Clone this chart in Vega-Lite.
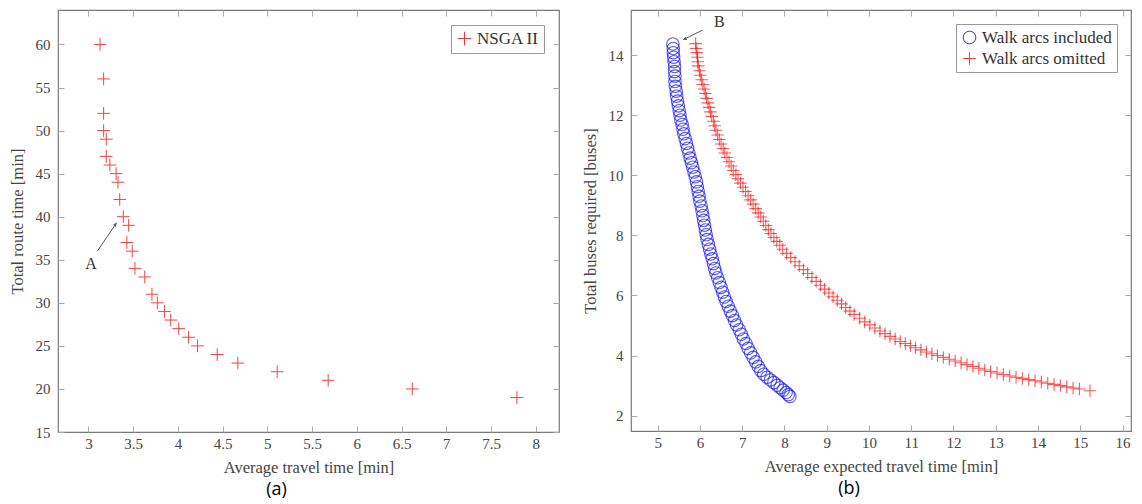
{
  "$schema": "https://vega.github.io/schema/vega-lite/v6.json",
  "background": "white",
  "padding": {"left": 8, "top": 8, "right": 5, "bottom": 0},
  "spacing": 20,
  "datasets": {
    "left": [
      {"x": 3.13, "y": 60}, {"x": 3.17, "y": 56}, {"x": 3.17, "y": 52}, {"x": 3.17, "y": 50},
      {"x": 3.20, "y": 49}, {"x": 3.20, "y": 47}, {"x": 3.24, "y": 46}, {"x": 3.31, "y": 45},
      {"x": 3.33, "y": 44}, {"x": 3.35, "y": 42}, {"x": 3.39, "y": 40}, {"x": 3.45, "y": 39},
      {"x": 3.43, "y": 37}, {"x": 3.49, "y": 36}, {"x": 3.52, "y": 34}, {"x": 3.63, "y": 33},
      {"x": 3.71, "y": 31}, {"x": 3.77, "y": 30}, {"x": 3.85, "y": 29}, {"x": 3.92, "y": 28},
      {"x": 4.01, "y": 27}, {"x": 4.12, "y": 26}, {"x": 4.22, "y": 25}, {"x": 4.44, "y": 24},
      {"x": 4.67, "y": 23}, {"x": 5.11, "y": 22}, {"x": 5.68, "y": 21}, {"x": 6.62, "y": 20},
      {"x": 7.79, "y": 19}
    ],
    "annL": [{"x": 3.10, "y": 36.0, "x2": 3.31, "y2": 39.22, "tx": 3.03, "ty": 34.45, "label": "A"}],
    "annR": [{"x": 6.06, "y": 14.83, "x2": 5.62, "y2": 14.52, "tx": 6.46, "ty": 15.09, "label": "B"}],
    "right": [
      {"x": 5.36, "y": 14.37, "s": "Walk arcs included"}, {"x": 5.37, "y": 14.22, "s": "Walk arcs included"},
      {"x": 5.37, "y": 14.08, "s": "Walk arcs included"}, {"x": 5.38, "y": 13.93, "s": "Walk arcs included"},
      {"x": 5.39, "y": 13.78, "s": "Walk arcs included"}, {"x": 5.40, "y": 13.62, "s": "Walk arcs included"},
      {"x": 5.40, "y": 13.45, "s": "Walk arcs included"}, {"x": 5.41, "y": 13.30, "s": "Walk arcs included"},
      {"x": 5.41, "y": 13.12, "s": "Walk arcs included"}, {"x": 5.42, "y": 12.96, "s": "Walk arcs included"},
      {"x": 5.44, "y": 12.80, "s": "Walk arcs included"}, {"x": 5.45, "y": 12.63, "s": "Walk arcs included"},
      {"x": 5.47, "y": 12.47, "s": "Walk arcs included"}, {"x": 5.49, "y": 12.31, "s": "Walk arcs included"},
      {"x": 5.51, "y": 12.15, "s": "Walk arcs included"}, {"x": 5.53, "y": 12.00, "s": "Walk arcs included"},
      {"x": 5.55, "y": 11.84, "s": "Walk arcs included"}, {"x": 5.58, "y": 11.69, "s": "Walk arcs included"},
      {"x": 5.60, "y": 11.53, "s": "Walk arcs included"}, {"x": 5.62, "y": 11.38, "s": "Walk arcs included"},
      {"x": 5.65, "y": 11.22, "s": "Walk arcs included"}, {"x": 5.68, "y": 11.06, "s": "Walk arcs included"},
      {"x": 5.71, "y": 10.90, "s": "Walk arcs included"}, {"x": 5.74, "y": 10.74, "s": "Walk arcs included"},
      {"x": 5.77, "y": 10.57, "s": "Walk arcs included"}, {"x": 5.80, "y": 10.42, "s": "Walk arcs included"},
      {"x": 5.83, "y": 10.27, "s": "Walk arcs included"}, {"x": 5.86, "y": 10.11, "s": "Walk arcs included"},
      {"x": 5.89, "y": 9.95, "s": "Walk arcs included"}, {"x": 5.92, "y": 9.78, "s": "Walk arcs included"},
      {"x": 5.94, "y": 9.62, "s": "Walk arcs included"}, {"x": 5.96, "y": 9.46, "s": "Walk arcs included"},
      {"x": 5.98, "y": 9.30, "s": "Walk arcs included"}, {"x": 6.00, "y": 9.14, "s": "Walk arcs included"},
      {"x": 6.03, "y": 8.98, "s": "Walk arcs included"}, {"x": 6.05, "y": 8.82, "s": "Walk arcs included"},
      {"x": 6.07, "y": 8.66, "s": "Walk arcs included"}, {"x": 6.09, "y": 8.50, "s": "Walk arcs included"},
      {"x": 6.11, "y": 8.34, "s": "Walk arcs included"}, {"x": 6.13, "y": 8.18, "s": "Walk arcs included"},
      {"x": 6.15, "y": 8.02, "s": "Walk arcs included"}, {"x": 6.17, "y": 7.86, "s": "Walk arcs included"},
      {"x": 6.20, "y": 7.70, "s": "Walk arcs included"}, {"x": 6.23, "y": 7.54, "s": "Walk arcs included"},
      {"x": 6.26, "y": 7.38, "s": "Walk arcs included"}, {"x": 6.29, "y": 7.22, "s": "Walk arcs included"},
      {"x": 6.32, "y": 7.06, "s": "Walk arcs included"}, {"x": 6.35, "y": 6.90, "s": "Walk arcs included"},
      {"x": 6.38, "y": 6.75, "s": "Walk arcs included"}, {"x": 6.42, "y": 6.59, "s": "Walk arcs included"},
      {"x": 6.46, "y": 6.43, "s": "Walk arcs included"}, {"x": 6.50, "y": 6.27, "s": "Walk arcs included"},
      {"x": 6.54, "y": 6.11, "s": "Walk arcs included"}, {"x": 6.58, "y": 5.95, "s": "Walk arcs included"},
      {"x": 6.62, "y": 5.80, "s": "Walk arcs included"}, {"x": 6.67, "y": 5.64, "s": "Walk arcs included"},
      {"x": 6.72, "y": 5.48, "s": "Walk arcs included"}, {"x": 6.77, "y": 5.33, "s": "Walk arcs included"},
      {"x": 6.82, "y": 5.17, "s": "Walk arcs included"}, {"x": 6.87, "y": 5.02, "s": "Walk arcs included"},
      {"x": 6.93, "y": 4.86, "s": "Walk arcs included"}, {"x": 6.98, "y": 4.71, "s": "Walk arcs included"},
      {"x": 7.03, "y": 4.55, "s": "Walk arcs included"}, {"x": 7.09, "y": 4.40, "s": "Walk arcs included"},
      {"x": 7.14, "y": 4.24, "s": "Walk arcs included"}, {"x": 7.20, "y": 4.09, "s": "Walk arcs included"},
      {"x": 7.26, "y": 3.94, "s": "Walk arcs included"}, {"x": 7.32, "y": 3.79, "s": "Walk arcs included"},
      {"x": 7.38, "y": 3.64, "s": "Walk arcs included"}, {"x": 7.44, "y": 3.50, "s": "Walk arcs included"},
      {"x": 7.51, "y": 3.38, "s": "Walk arcs included"}, {"x": 7.59, "y": 3.28, "s": "Walk arcs included"},
      {"x": 7.67, "y": 3.19, "s": "Walk arcs included"}, {"x": 7.75, "y": 3.10, "s": "Walk arcs included"},
      {"x": 7.83, "y": 3.01, "s": "Walk arcs included"}, {"x": 7.90, "y": 2.93, "s": "Walk arcs included"},
      {"x": 7.97, "y": 2.85, "s": "Walk arcs included"}, {"x": 8.04, "y": 2.77, "s": "Walk arcs included"},
      {"x": 8.09, "y": 2.70, "s": "Walk arcs included"}, {"x": 8.13, "y": 2.64, "s": "Walk arcs included"},
      {"x": 5.90, "y": 14.38, "s": "Walk arcs omitted"}, {"x": 5.91, "y": 14.22, "s": "Walk arcs omitted"},
      {"x": 5.93, "y": 14.08, "s": "Walk arcs omitted"}, {"x": 5.94, "y": 13.93, "s": "Walk arcs omitted"},
      {"x": 5.95, "y": 13.78, "s": "Walk arcs omitted"}, {"x": 5.96, "y": 13.64, "s": "Walk arcs omitted"},
      {"x": 5.99, "y": 13.48, "s": "Walk arcs omitted"}, {"x": 6.01, "y": 13.33, "s": "Walk arcs omitted"},
      {"x": 6.04, "y": 13.18, "s": "Walk arcs omitted"}, {"x": 6.07, "y": 13.02, "s": "Walk arcs omitted"},
      {"x": 6.10, "y": 12.87, "s": "Walk arcs omitted"}, {"x": 6.13, "y": 12.72, "s": "Walk arcs omitted"},
      {"x": 6.16, "y": 12.56, "s": "Walk arcs omitted"}, {"x": 6.19, "y": 12.41, "s": "Walk arcs omitted"},
      {"x": 6.22, "y": 12.26, "s": "Walk arcs omitted"}, {"x": 6.25, "y": 12.11, "s": "Walk arcs omitted"},
      {"x": 6.28, "y": 11.96, "s": "Walk arcs omitted"}, {"x": 6.32, "y": 11.80, "s": "Walk arcs omitted"},
      {"x": 6.35, "y": 11.65, "s": "Walk arcs omitted"}, {"x": 6.38, "y": 11.50, "s": "Walk arcs omitted"},
      {"x": 6.42, "y": 11.34, "s": "Walk arcs omitted"}, {"x": 6.46, "y": 11.19, "s": "Walk arcs omitted"},
      {"x": 6.50, "y": 11.04, "s": "Walk arcs omitted"}, {"x": 6.55, "y": 10.89, "s": "Walk arcs omitted"},
      {"x": 6.59, "y": 10.74, "s": "Walk arcs omitted"}, {"x": 6.64, "y": 10.59, "s": "Walk arcs omitted"},
      {"x": 6.69, "y": 10.45, "s": "Walk arcs omitted"}, {"x": 6.74, "y": 10.31, "s": "Walk arcs omitted"},
      {"x": 6.79, "y": 10.16, "s": "Walk arcs omitted"}, {"x": 6.85, "y": 10.02, "s": "Walk arcs omitted"},
      {"x": 6.90, "y": 9.88, "s": "Walk arcs omitted"}, {"x": 6.96, "y": 9.74, "s": "Walk arcs omitted"},
      {"x": 7.02, "y": 9.60, "s": "Walk arcs omitted"}, {"x": 7.08, "y": 9.46, "s": "Walk arcs omitted"},
      {"x": 7.14, "y": 9.32, "s": "Walk arcs omitted"}, {"x": 7.20, "y": 9.18, "s": "Walk arcs omitted"},
      {"x": 7.26, "y": 9.04, "s": "Walk arcs omitted"}, {"x": 7.32, "y": 8.89, "s": "Walk arcs omitted"},
      {"x": 7.38, "y": 8.75, "s": "Walk arcs omitted"}, {"x": 7.44, "y": 8.61, "s": "Walk arcs omitted"},
      {"x": 7.50, "y": 8.47, "s": "Walk arcs omitted"}, {"x": 7.56, "y": 8.33, "s": "Walk arcs omitted"},
      {"x": 7.62, "y": 8.19, "s": "Walk arcs omitted"}, {"x": 7.68, "y": 8.06, "s": "Walk arcs omitted"},
      {"x": 7.75, "y": 7.93, "s": "Walk arcs omitted"}, {"x": 7.82, "y": 7.80, "s": "Walk arcs omitted"},
      {"x": 7.89, "y": 7.67, "s": "Walk arcs omitted"}, {"x": 7.96, "y": 7.54, "s": "Walk arcs omitted"},
      {"x": 8.05, "y": 7.40, "s": "Walk arcs omitted"}, {"x": 8.15, "y": 7.26, "s": "Walk arcs omitted"},
      {"x": 8.25, "y": 7.12, "s": "Walk arcs omitted"}, {"x": 8.35, "y": 6.99, "s": "Walk arcs omitted"},
      {"x": 8.45, "y": 6.86, "s": "Walk arcs omitted"}, {"x": 8.55, "y": 6.73, "s": "Walk arcs omitted"},
      {"x": 8.65, "y": 6.60, "s": "Walk arcs omitted"}, {"x": 8.75, "y": 6.47, "s": "Walk arcs omitted"},
      {"x": 8.85, "y": 6.34, "s": "Walk arcs omitted"}, {"x": 8.95, "y": 6.21, "s": "Walk arcs omitted"},
      {"x": 9.05, "y": 6.08, "s": "Walk arcs omitted"}, {"x": 9.15, "y": 5.96, "s": "Walk arcs omitted"},
      {"x": 9.25, "y": 5.84, "s": "Walk arcs omitted"}, {"x": 9.35, "y": 5.72, "s": "Walk arcs omitted"},
      {"x": 9.45, "y": 5.60, "s": "Walk arcs omitted"}, {"x": 9.55, "y": 5.48, "s": "Walk arcs omitted"},
      {"x": 9.65, "y": 5.37, "s": "Walk arcs omitted"}, {"x": 9.78, "y": 5.24, "s": "Walk arcs omitted"},
      {"x": 9.90, "y": 5.12, "s": "Walk arcs omitted"}, {"x": 10.02, "y": 5.02, "s": "Walk arcs omitted"},
      {"x": 10.14, "y": 4.92, "s": "Walk arcs omitted"}, {"x": 10.26, "y": 4.82, "s": "Walk arcs omitted"},
      {"x": 10.38, "y": 4.73, "s": "Walk arcs omitted"}, {"x": 10.50, "y": 4.64, "s": "Walk arcs omitted"},
      {"x": 10.62, "y": 4.55, "s": "Walk arcs omitted"}, {"x": 10.74, "y": 4.47, "s": "Walk arcs omitted"},
      {"x": 10.86, "y": 4.40, "s": "Walk arcs omitted"}, {"x": 10.98, "y": 4.33, "s": "Walk arcs omitted"},
      {"x": 11.10, "y": 4.26, "s": "Walk arcs omitted"}, {"x": 11.23, "y": 4.19, "s": "Walk arcs omitted"},
      {"x": 11.36, "y": 4.12, "s": "Walk arcs omitted"}, {"x": 11.49, "y": 4.06, "s": "Walk arcs omitted"},
      {"x": 11.62, "y": 4.00, "s": "Walk arcs omitted"}, {"x": 11.76, "y": 3.94, "s": "Walk arcs omitted"},
      {"x": 11.90, "y": 3.88, "s": "Walk arcs omitted"}, {"x": 12.04, "y": 3.82, "s": "Walk arcs omitted"},
      {"x": 12.18, "y": 3.76, "s": "Walk arcs omitted"}, {"x": 12.32, "y": 3.70, "s": "Walk arcs omitted"},
      {"x": 12.46, "y": 3.64, "s": "Walk arcs omitted"}, {"x": 12.60, "y": 3.58, "s": "Walk arcs omitted"},
      {"x": 12.74, "y": 3.52, "s": "Walk arcs omitted"}, {"x": 12.88, "y": 3.47, "s": "Walk arcs omitted"},
      {"x": 13.03, "y": 3.42, "s": "Walk arcs omitted"}, {"x": 13.18, "y": 3.37, "s": "Walk arcs omitted"},
      {"x": 13.33, "y": 3.32, "s": "Walk arcs omitted"}, {"x": 13.48, "y": 3.28, "s": "Walk arcs omitted"},
      {"x": 13.63, "y": 3.24, "s": "Walk arcs omitted"}, {"x": 13.78, "y": 3.20, "s": "Walk arcs omitted"},
      {"x": 13.93, "y": 3.16, "s": "Walk arcs omitted"}, {"x": 14.08, "y": 3.12, "s": "Walk arcs omitted"},
      {"x": 14.23, "y": 3.08, "s": "Walk arcs omitted"}, {"x": 14.38, "y": 3.04, "s": "Walk arcs omitted"},
      {"x": 14.53, "y": 3.00, "s": "Walk arcs omitted"}, {"x": 14.68, "y": 2.96, "s": "Walk arcs omitted"},
      {"x": 14.83, "y": 2.92, "s": "Walk arcs omitted"}, {"x": 14.98, "y": 2.89, "s": "Walk arcs omitted"},
      {"x": 15.23, "y": 2.83, "s": "Walk arcs omitted"}
    ]
  },
  "hconcat": [
    {
      "width": 501,
      "height": 422,
      "title": {"text": "(a)", "orient": "bottom", "frame": "group", "anchor": "middle", "dx": -32, "offset": 5, "font": "Open Sans", "fontSize": 18, "fontWeight": "normal", "color": "#000000"},
      "layer": [
        {
          "data": {"name": "left"},
          "mark": {"type": "point", "filled": false, "strokeWidth": 1, "opacity": 0.75, "size": 160},
          "encoding": {
            "x": {"field": "x", "type": "quantitative", "scale": {"domain": [2.66, 8.26], "nice": false, "zero": false},
                  "axis": {"orient": "bottom", "title": "Average travel time [min]", "values": [3, 3.5, 4, 4.5, 5, 5.5, 6, 6.5, 7, 7.5, 8], "format": "~g", "labelFont": "Liberation Serif"}},
            "y": {"field": "y", "type": "quantitative", "scale": {"domain": [15, 64], "nice": false, "zero": false},
                  "axis": {"orient": "left", "title": "Total route time [min]", "values": [15, 20, 25, 30, 35, 40, 45, 50, 55, 60], "labelFont": "Liberation Serif"}},
            "color": {"datum": "NSGA II", "type": "nominal", "scale": {"domain": ["NSGA II"], "range": ["#ff0000"]},
                      "legend": {"title": null, "orient": "top-right", "offset": 15, "symbolSize": 180, "labelFont": "Liberation Serif"}},
            "shape": {"datum": "NSGA II", "type": "nominal", "scale": {"domain": ["NSGA II"], "range": ["M-1,0H1M0,-1V1"]},
                      "legend": {"title": null, "orient": "top-right", "offset": 15, "symbolSize": 180, "labelFont": "Liberation Serif"}}
          }
        },
        {
          "data": {"name": "annL"},
          "mark": {"type": "rule", "color": "#555555", "strokeWidth": 1},
          "encoding": {
            "x": {"field": "x", "type": "quantitative", "scale": {"domain": [2.66, 8.26], "nice": false, "zero": false},
                  "axis": {"orient": "top", "labels": false, "title": null, "values": [3, 3.5, 4, 4.5, 5, 5.5, 6, 6.5, 7, 7.5, 8]}},
            "y": {"field": "y", "type": "quantitative", "scale": {"domain": [15, 64], "nice": false, "zero": false},
                  "axis": {"orient": "right", "labels": false, "title": null, "values": [15, 20, 25, 30, 35, 40, 45, 50, 55, 60]}},
            "x2": {"field": "x2"},
            "y2": {"field": "y2"}
          }
        },
        {
          "data": {"name": "annL"},
          "mark": {"type": "point", "shape": "M-0.8,2L0,0L0.8,2", "filled": false, "angle": 35, "size": 9, "color": "#555555", "strokeWidth": 1, "opacity": 1},
          "encoding": {
            "x": {"field": "x2", "type": "quantitative", "scale": {"domain": [2.66, 8.26], "nice": false, "zero": false}, "axis": null},
            "y": {"field": "y2", "type": "quantitative", "scale": {"domain": [15, 64], "nice": false, "zero": false}, "axis": null}
          }
        },
        {
          "data": {"name": "annL"},
          "mark": {"type": "text", "font": "Liberation Serif", "fontSize": 16, "color": "#333333"},
          "encoding": {
            "x": {"field": "tx", "type": "quantitative", "scale": {"domain": [2.66, 8.26], "nice": false, "zero": false}, "axis": null},
            "y": {"field": "ty", "type": "quantitative", "scale": {"domain": [15, 64], "nice": false, "zero": false}, "axis": null},
            "text": {"field": "label"}
          }
        }
      ],
      "resolve": {"axis": {"x": "independent", "y": "independent"}}
    },
    {
      "width": 500,
      "height": 421,
      "title": {"text": "(b)", "orient": "bottom", "frame": "group", "anchor": "middle", "dx": -32, "offset": 5, "font": "Open Sans", "fontSize": 18, "fontWeight": "normal", "color": "#000000"},
      "layer": [
        {
          "data": {"name": "right"},
          "mark": {"type": "point", "filled": false, "strokeWidth": 1.1, "opacity": 0.65, "size": 155},
          "encoding": {
            "x": {"field": "x", "type": "quantitative", "scale": {"domain": [4.37, 16.2], "nice": false, "zero": false},
                  "axis": {"orient": "bottom", "title": "Average expected travel time [min]", "values": [5, 6, 7, 8, 9, 10, 11, 12, 13, 14, 15, 16], "labelFont": "Liberation Serif"}},
            "y": {"field": "y", "type": "quantitative", "scale": {"domain": [1.49, 15.5], "nice": false, "zero": false},
                  "axis": {"orient": "left", "title": "Total buses required [buses]", "values": [2, 4, 6, 8, 10, 12, 14], "labelFont": "Liberation Serif"}},
            "color": {"field": "s", "type": "nominal", "scale": {"domain": ["Walk arcs included", "Walk arcs omitted"], "range": ["#0000ff", "#ff0000"]},
                      "legend": {"title": null, "orient": "top-right", "offset": 14, "symbolSize": 160, "labelFont": "Liberation Serif"}},
            "shape": {"field": "s", "type": "nominal", "scale": {"domain": ["Walk arcs included", "Walk arcs omitted"], "range": ["circle", "M-1,0H1M0,-1V1"]},
                      "legend": {"title": null, "orient": "top-right", "offset": 14, "symbolSize": 160, "labelFont": "Liberation Serif"}}
          }
        },
        {
          "data": {"name": "annR"},
          "mark": {"type": "rule", "color": "#555555", "strokeWidth": 1},
          "encoding": {
            "x": {"field": "x", "type": "quantitative", "scale": {"domain": [4.37, 16.2], "nice": false, "zero": false},
                  "axis": {"orient": "top", "labels": false, "title": null, "values": [5, 6, 7, 8, 9, 10, 11, 12, 13, 14, 15, 16]}},
            "y": {"field": "y", "type": "quantitative", "scale": {"domain": [1.49, 15.5], "nice": false, "zero": false},
                  "axis": {"orient": "right", "labels": false, "title": null, "values": [2, 4, 6, 8, 10, 12, 14]}},
            "x2": {"field": "x2"},
            "y2": {"field": "y2"}
          }
        },
        {
          "data": {"name": "annR"},
          "mark": {"type": "point", "shape": "M-0.8,2L0,0L0.8,2", "filled": false, "angle": 243, "size": 9, "color": "#555555", "strokeWidth": 1, "opacity": 1},
          "encoding": {
            "x": {"field": "x2", "type": "quantitative", "scale": {"domain": [4.37, 16.2], "nice": false, "zero": false}, "axis": null},
            "y": {"field": "y2", "type": "quantitative", "scale": {"domain": [1.49, 15.5], "nice": false, "zero": false}, "axis": null}
          }
        },
        {
          "data": {"name": "annR"},
          "mark": {"type": "text", "font": "Liberation Serif", "fontSize": 16, "color": "#333333"},
          "encoding": {
            "x": {"field": "tx", "type": "quantitative", "scale": {"domain": [4.37, 16.2], "nice": false, "zero": false}, "axis": null},
            "y": {"field": "ty", "type": "quantitative", "scale": {"domain": [1.49, 15.5], "nice": false, "zero": false}, "axis": null},
            "text": {"field": "label"}
          }
        }
      ],
      "resolve": {"axis": {"x": "independent", "y": "independent"}}
    }
  ],
  "resolve": {"scale": {"color": "independent", "shape": "independent"}, "legend": {"color": "independent", "shape": "independent"}},
  "config": {
    "font": "Liberation Serif",
    "view": {"stroke": "#7a7a7a", "strokeWidth": 1.2},
    "axis": {
      "domain": false, "grid": false, "tickSize": -6, "tickColor": "#aaaaaa", "tickWidth": 1,
      "labelFont": "Liberation Serif", "labelFontSize": 15, "labelColor": "#444444", "labelOverlap": false, "labelFlush": false,
      "titleFont": "Liberation Serif", "titleFontSize": 16.5, "titleFontWeight": "normal", "titleColor": "#444444"
    },
    "axisX": {"labelPadding": 10, "titlePadding": 8},
    "axisY": {"labelPadding": 14, "titlePadding": 10},
    "legend": {
      "strokeColor": "#999999", "fillColor": "white", "padding": 5, "cornerRadius": 0,
      "labelFont": "Liberation Serif", "labelFontSize": 17, "labelColor": "#333333",
      "symbolStrokeWidth": 1, "symbolOpacity": 0.8, "rowPadding": 3, "labelOffset": 4
    }
  }
}
